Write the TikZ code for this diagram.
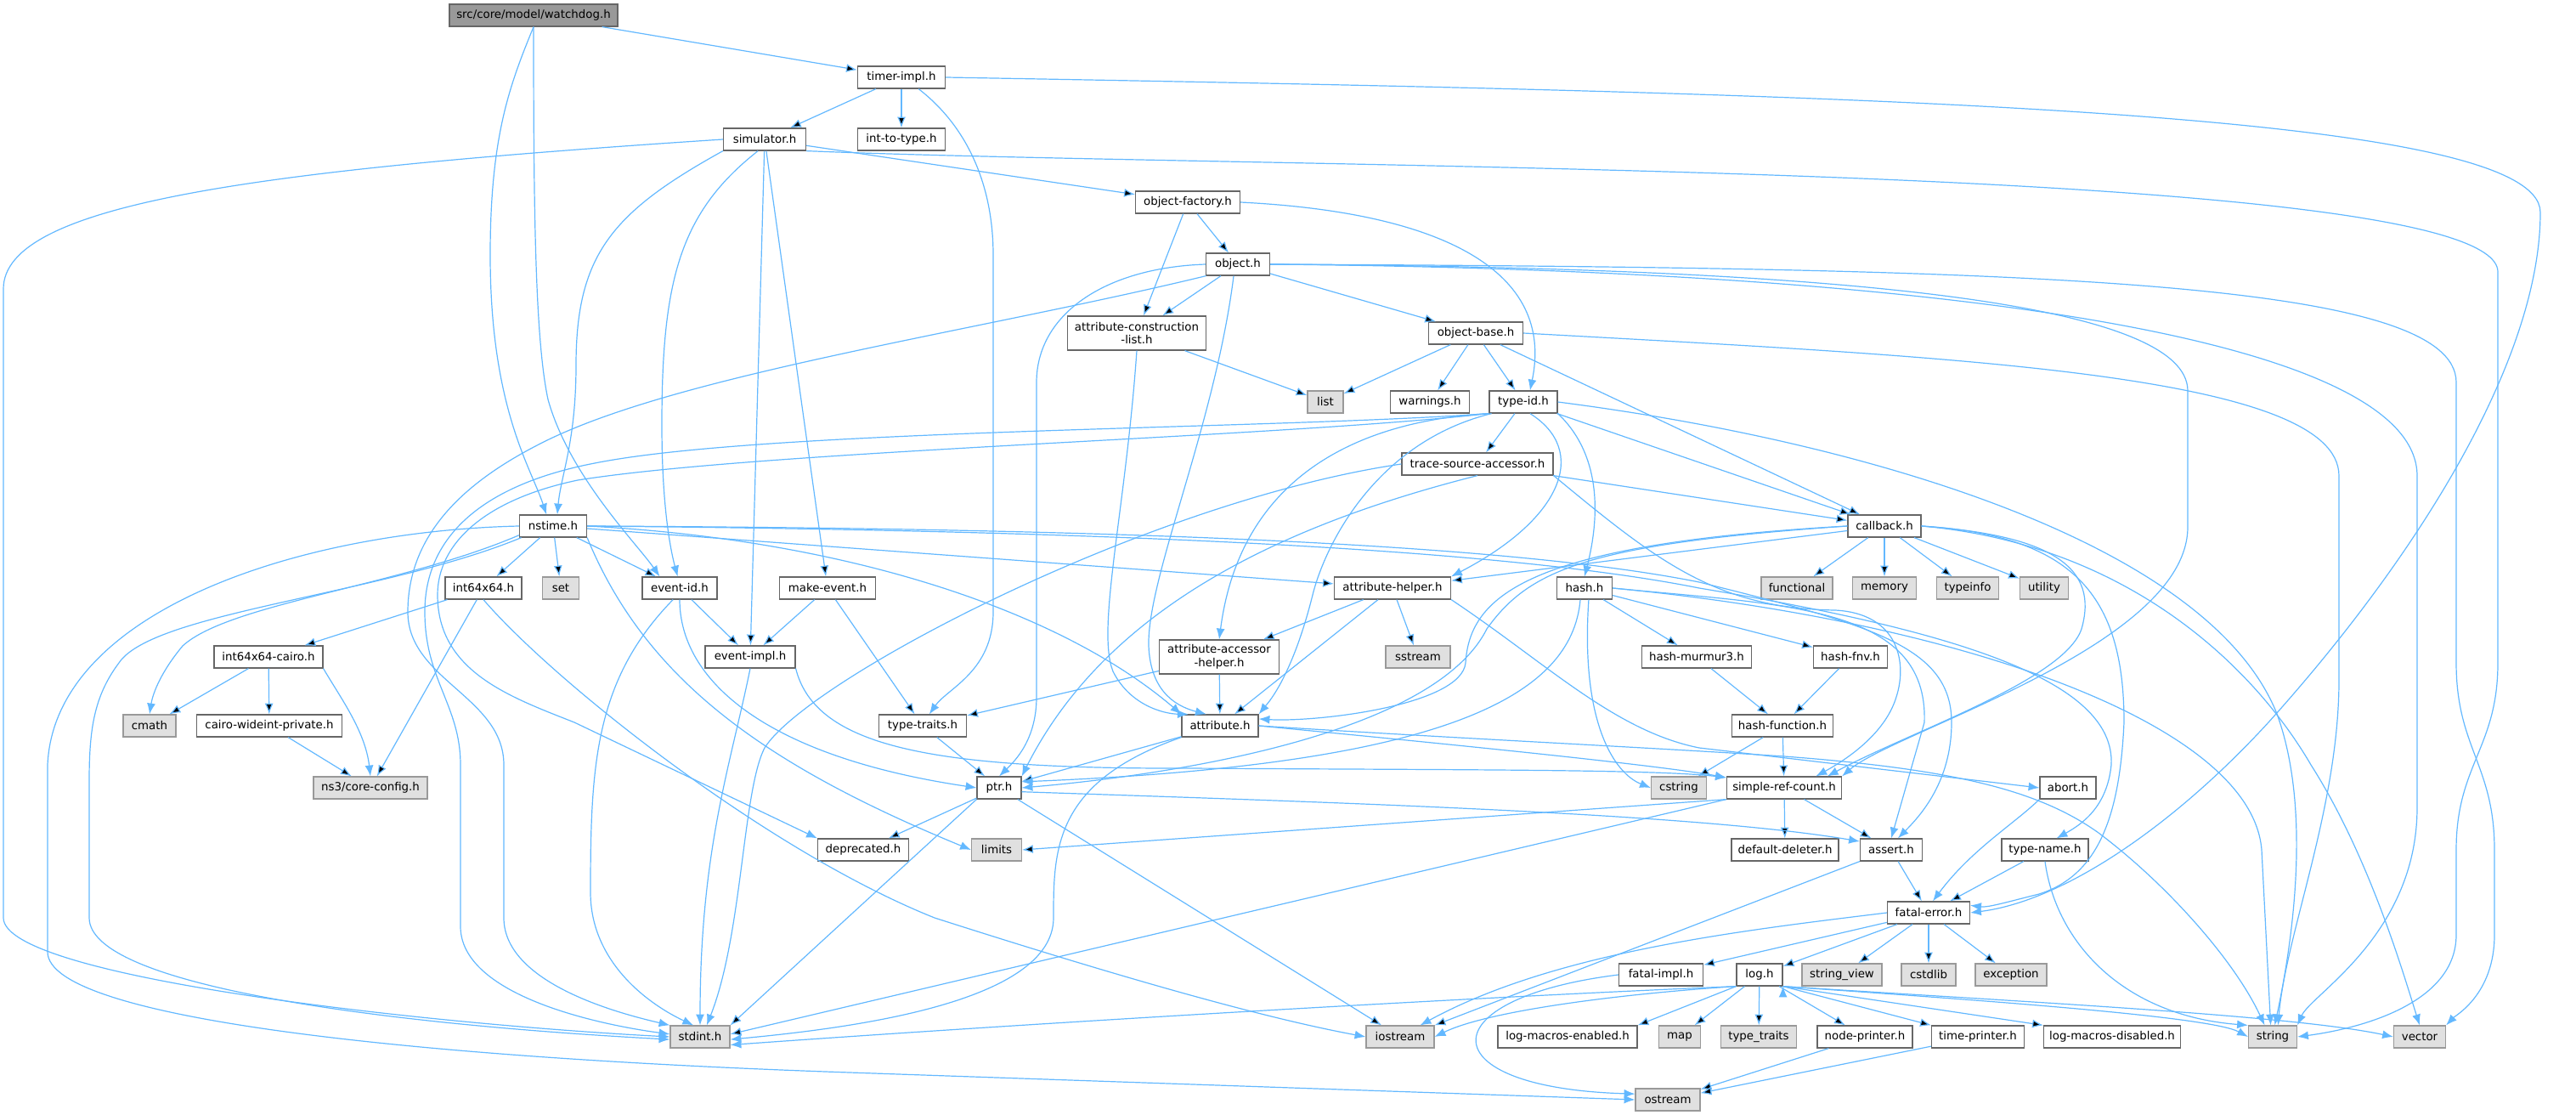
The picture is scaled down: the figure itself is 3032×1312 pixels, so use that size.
\documentclass[tikz,border=0pt]{standalone}
\usepackage{fontspec}
\setmainfont{DejaVu Sans}
\usetikzlibrary{arrows.meta,positioning}
\definecolor{linkblue}{HTML}{63B8FF}
\definecolor{boxline}{HTML}{666666}
\definecolor{sysline}{HTML}{999999}
\definecolor{sysfill}{HTML}{E0E0E0}
\definecolor{rootfill}{HTML}{999999}
\tikzset{>={Latex[length=3.2mm,width=2.5mm]}}

\begin{document}
\begin{tikzpicture}[x=0.25mm, y=-0.25mm,
                every node/.append style={align=center, font=\fontsize{9.5}{11}\selectfont},
                file/.style={draw=boxline, fill=white, line width=0.3mm, minimum height=6.5mm, inner xsep=0.4mm, inner ysep=0.5mm},
                sys/.style={file, draw=sysline, fill=sysfill},
                root/.style={file, fill=rootfill},
                link/.style={->, draw=linkblue, line width=0.3mm}]

\useasboundingbox (0,0) rectangle (3032,1312);

\node[root, minimum width=49.5mm] (watchdog) at (628,18) {src/core/model/watchdog.h};
\node[file, minimum width=25.75mm] (timerimpl) at (1061,91) {timer-impl.h};
\node[file, minimum width=25.75mm] (inttotype) at (1061,164) {int-to-type.h};
\node[file, minimum width=24.25mm] (simulator) at (900,164) {simulator.h};
\node[file, minimum width=30.75mm] (objfactory) at (1398,238) {object-factory.h};
\node[file, minimum width=18.75mm] (object) at (1457,311) {object.h};
\node[file, minimum width=40.75mm, minimum height=10mm] (attrconslist) at (1338,392) {attribute-construction\\-list.h};
\node[file, minimum width=27.75mm] (objectbase) at (1737,392) {object-base.h};
\node[sys, minimum width=10.5mm] (list) at (1560,473) {list};
\node[file, minimum width=23.25mm] (warnings) at (1683,473) {warnings.h};
\node[file, minimum width=20mm] (typeid) at (1793,473) {type-id.h};
\node[file, minimum width=44.5mm] (tracesrc) at (1739,546) {trace-source-accessor.h};
\node[file, minimum width=19.75mm] (nstime) at (651,619) {nstime.h};
\node[file, minimum width=21.5mm] (callback) at (2218,619) {callback.h};
\node[file, minimum width=22.5mm] (int64x64) at (569,692) {int64x64.h};
\node[sys, minimum width=10.75mm] (set) at (660,692) {set};
\node[file, minimum width=22mm] (eventid) at (800,692) {event-id.h};
\node[file, minimum width=28.25mm] (makeevent) at (974,692) {make-event.h};
\node[file, minimum width=34.25mm] (attrhelper) at (1639,692) {attribute-helper.h};
\node[file, minimum width=16.25mm] (hash) at (1865,692) {hash.h};
\node[sys, minimum width=21mm] (functional) at (2115,692) {functional};
\node[sys, minimum width=18.75mm] (memory) at (2218,692) {memory};
\node[sys, minimum width=18.25mm] (typeinfo) at (2316,692) {typeinfo};
\node[sys, minimum width=14.25mm] (utility) at (2406,692) {utility};
\node[file, minimum width=32mm] (cairo) at (316,773) {int64x64-cairo.h};
\node[file, minimum width=26.5mm] (eventimpl) at (883,773) {event-impl.h};
\node[file, minimum width=35.25mm, minimum height=10mm] (accessorhelper) at (1435,773) {attribute-accessor\\-helper.h};
\node[sys, minimum width=19mm] (sstream) at (1669,773) {sstream};
\node[file, minimum width=32.25mm] (murmur) at (1997,773) {hash-murmur3.h};
\node[file, minimum width=21.75mm] (fnv) at (2178,773) {hash-fnv.h};
\node[sys, minimum width=15.5mm] (cmath) at (176,854) {cmath};
\node[file, minimum width=42.75mm] (wideint) at (317,854) {cairo-wideint-private.h};
\node[file, minimum width=25.75mm] (typetraits) at (1086,854) {type-traits.h};
\node[file, minimum width=22.5mm] (attribute) at (1436,854) {attribute.h};
\node[file, minimum width=29.75mm] (hashfunc) at (2098,854) {hash-function.h};
\node[sys, minimum width=33.5mm] (coreconfig) at (436,927) {ns3/core-config.h};
\node[file, minimum width=13mm] (ptr) at (1176,927) {ptr.h};
\node[sys, minimum width=16.25mm] (cstring) at (1976,927) {cstring};
\node[file, minimum width=33.75mm] (simplerefcount) at (2100,927) {simple-ref-count.h};
\node[file, minimum width=16.5mm] (abort) at (2434,927) {abort.h};
\node[file, minimum width=26.75mm] (deprecated) at (1016,1000) {deprecated.h};
\node[sys, minimum width=14.75mm] (limits) at (1173,1000) {limits};
\node[file, minimum width=31.5mm] (defaultdeleter) at (2101,1000) {default-deleter.h};
\node[file, minimum width=18.25mm] (assert) at (2226,1000) {assert.h};
\node[file, minimum width=25.5mm] (typename) at (2407,1000) {type-name.h};
\node[file, minimum width=24.25mm] (fatalerror) at (2270,1074) {fatal-error.h};
\node[file, minimum width=24.75mm] (fatalimpl) at (1955,1147) {fatal-impl.h};
\node[file, minimum width=13.5mm] (log) at (2071,1147) {log.h};
\node[sys, minimum width=23.5mm] (stringview) at (2168,1147) {string\_view};
\node[sys, minimum width=16mm] (cstdlib) at (2270,1147) {cstdlib};
\node[sys, minimum width=21mm] (exception) at (2367,1147) {exception};
\node[sys, minimum width=17.5mm] (stdint) at (824,1220) {stdint.h};
\node[sys, minimum width=20mm] (iostream) at (1648,1220) {iostream};
\node[file, minimum width=41mm] (logenabled) at (1845,1220) {log-macros-enabled.h};
\node[sys, minimum width=12.25mm] (map) at (1977,1220) {map};
\node[sys, minimum width=22.25mm] (typetraitsstd) at (2070,1220) {type\_traits};
\node[file, minimum width=28mm] (nodeprinter) at (2195,1220) {node-printer.h};
\node[file, minimum width=27.25mm] (timeprinter) at (2328,1220) {time-printer.h};
\node[file, minimum width=40.25mm] (logdisabled) at (2486,1220) {log-macros-disabled.h};
\node[sys, minimum width=14.25mm] (string) at (2675,1220) {string};
\node[sys, minimum width=15.25mm] (vector) at (2848,1220) {vector};
\node[sys, minimum width=19mm] (ostream) at (1963,1294) {ostream};

\path[link] (watchdog) edge (timerimpl)
    (timerimpl) edge (simulator)
    (timerimpl) edge (inttotype)
    (simulator) edge (objfactory)
    (simulator) edge (eventimpl)
    (simulator) edge (makeevent)
    (objfactory) edge (object)
    (objfactory) edge (attrconslist)
    (object) edge (attrconslist)
    (object) edge (objectbase)
    (attrconslist) edge (list)
    (objectbase) edge (list)
    (objectbase) edge (warnings)
    (objectbase) edge (typeid)
    (objectbase) edge (callback)
    (typeid) edge (tracesrc)
    (typeid) edge (callback)
    (tracesrc) edge (callback)
    (nstime) edge (int64x64)
    (nstime) edge (set)
    (nstime) edge (eventid)
    (nstime) edge (attrhelper)
    (callback) edge (functional)
    (callback) edge (memory)
    (callback) edge (typeinfo)
    (callback) edge (utility)
    (callback) edge (attrhelper)
    (int64x64) edge (cairo)
    (int64x64) edge (coreconfig)
    (cairo) edge (cmath)
    (cairo) edge (wideint)
    (wideint) edge (coreconfig)
    (eventid) edge (eventimpl)
    (makeevent) edge (eventimpl)
    (makeevent) edge (typetraits)
    (attrhelper) edge (accessorhelper)
    (attrhelper) edge (attribute)
    (attrhelper) edge (sstream)
    (accessorhelper) edge (attribute)
    (accessorhelper) edge (typetraits)
    (hash) edge (murmur)
    (hash) edge (fnv)
    (murmur) edge (hashfunc)
    (fnv) edge (hashfunc)
    (hashfunc) edge (cstring)
    (hashfunc) edge (simplerefcount)
    (typetraits) edge (ptr)
    (attribute) edge (ptr)
    (ptr) edge (deprecated)
    (ptr) edge (iostream)
    (ptr.south west) edge (stdint.north east)
    (simplerefcount) edge (assert)
    (simplerefcount) edge (defaultdeleter)
    (simplerefcount.south west) edge (limits.east)
    (simplerefcount.south west) edge (stdint.5)
    (assert) edge (fatalerror)
    (typename) edge (fatalerror)
    (assert.south west) edge (iostream.north east)
    (fatalerror) edge (fatalimpl)
    (fatalerror) edge (log)
    (fatalerror) edge (stringview)
    (fatalerror) edge (cstdlib)
    (fatalerror) edge (exception)
    (log.south west) edge (logenabled.north east)
    (log) edge (map)
    (log) edge (typetraitsstd)
    (log) edge (nodeprinter)
    (log.south east) edge (timeprinter.north west)
    (log.south east) edge (logdisabled.north west)
    (nodeprinter) edge (ostream)
    (timeprinter) edge (ostream);

\draw[link] (watchdog.south) .. controls (600,100) and (577,160) .. (577,300) .. controls (577,480) and (625,550) .. (nstime.120);
\draw[link] (watchdog.south) .. controls (628,250) and (630,400) .. (645,470) .. controls (670,560) and (750,640) .. (eventid.150);
\draw[link] (timerimpl.326) .. controls (1140,150) and (1169,220) .. (1169,300) -- (1169,720) .. controls (1169,790) and (1115,810) .. (typetraits.60);
\draw[link] (timerimpl.east) .. controls (2200,110) and (2990,130) .. (2990,250) .. controls (2990,420) and (2850,650) .. (2670,850) .. controls (2560,970) and (2430,1060) .. (fatalerror.east);
\draw[link] (simulator.west) .. controls (300,200) and (4,240) .. (4,340) -- (4,1080) .. controls (4,1150) and (500,1205) .. (stdint.west);
\draw[link] (simulator.south west) .. controls (720,250) and (678,300) .. (678,430) .. controls (678,520) and (660,560) .. (nstime.70);
\draw[link] (simulator.240) .. controls (800,250) and (779,330) .. (779,500) .. controls (779,600) and (790,650) .. (eventid.100);
\draw[link] (simulator.south east) .. controls (1500,200) and (2940,190) .. (2940,320) -- (2940,780) .. controls (2940,880) and (2891,900) .. (2891,1000) -- (2891,1100) .. controls (2891,1180) and (2780,1210) .. (string.east);
\draw[link] (objfactory.east) .. controls (1700,250) and (1830,320) .. (typeid.60);
\draw[link] (object.west) .. controls (1300,315) and (1220,370) .. (1220,450) -- (1220,820) .. controls (1220,870) and (1195,895) .. (ptr.north);
\draw[link] (object.250) .. controls (1430,500) and (1350,680) .. (1352,760) .. controls (1354,810) and (1380,830) .. (attribute.140);
\draw[link] (object.200) .. controls (1150,390) and (800,440) .. (640,520) .. controls (560,560) and (480,620) .. (480,720) .. controls (480,800) and (593,820) .. (593,900) -- (593,1080) .. controls (593,1160) and (740,1195) .. (stdint.north west);
\draw[link] (object.east) .. controls (2200,315) and (2575,360) .. (2575,460) -- (2575,620) .. controls (2575,760) and (2230,860) .. (simplerefcount.north east);
\draw[link] (object.east) .. controls (2300,318) and (2845,400) .. (2845,560) -- (2845,950) .. controls (2845,1100) and (2720,1170) .. (string.north east);
\draw[link] (object.east) .. controls (2400,315) and (2891,330) .. (2891,450) -- (2891,780) .. controls (2891,880) and (2936,900) .. (2936,1000) -- (2936,1100) .. controls (2936,1170) and (2890,1195) .. (vector.north east);
\draw[link] (attrconslist.south) .. controls (1325,600) and (1290,740) .. (1310,790) .. controls (1330,830) and (1370,840) .. (attribute.160);
\draw[link] (objectbase.east) .. controls (2300,420) and (2753,440) .. (2753,560) -- (2753,800) .. controls (2753,950) and (2690,1100) .. (string.65);
\draw[link] (typeid.300) .. controls (1870,530) and (1840,610) .. (attrhelper.north east);
\draw[link] (typeid.south east) .. controls (1890,540) and (1880,620) .. (hash.north);
\draw[link] (typeid.south west) .. controls (1600,495) and (1460,560) .. (accessorhelper.north);
\draw[link] (typeid.200) .. controls (1620,520) and (1560,640) .. (1545,700) .. controls (1520,800) and (1490,830) .. (attribute.north east);
\draw[link] (typeid.south west) .. controls (1500,505) and (900,505) .. (700,545) .. controls (570,570) and (500,630) .. (500,720) .. controls (500,800) and (542,830) .. (542,900) -- (542,1090) .. controls (542,1170) and (700,1205) .. (stdint.175);
\draw[link] (typeid.south west) .. controls (1500,515) and (900,530) .. (680,565) .. controls (570,588) and (515,640) .. (515,700) .. controls (515,790) and (600,820) .. (676,850) -- (deprecated.north west);
\draw[link] (typeid.east) .. controls (2200,520) and (2600,640) .. (2680,840) .. controls (2720,950) and (2700,1100) .. (string.80);
\draw[link] (tracesrc.west) .. controls (1350,590) and (950,800) .. (900,880) .. controls (874,930) and (874,1100) .. (stdint.60);
\draw[link] (tracesrc.south) .. controls (1500,620) and (1300,720) .. (ptr.north east);
\draw[link] (tracesrc.south east) .. controls (1950,660) and (2020,716) .. (2160,718) .. controls (2235,722) and (2245,780) .. (2232,820) .. controls (2220,860) and (2180,890) .. (simplerefcount.20);
\draw[link] (nstime.west) .. controls (350,625) and (64,720) .. (56,900) -- (56,1120) .. controls (56,1200) and (500,1245) .. (1000,1262) -- (ostream.west);
\draw[link] (nstime.200) .. controls (450,700) and (180,720) .. (140,780) .. controls (110,820) and (105,860) .. (105,920) -- (105,1080) .. controls (105,1160) and (450,1205) .. (stdint.185);
\draw[link] (nstime.195) .. controls (470,690) and (270,710) .. (215,760) .. controls (190,790) and (180,815) .. (cmath.north);
\draw[link] (nstime.south east) .. controls (760,800) and (900,900) .. (limits.west);
\draw[link] (nstime.east) .. controls (1000,635) and (1250,720) .. (attribute.north west);
\draw[link] (nstime.east) .. controls (1400,622) and (1800,645) .. (2000,685) .. controls (2200,735) and (2297,760) .. (2297,850) .. controls (2297,920) and (2260,960) .. (assert.60);
\draw[link] (nstime.east) .. controls (1400,625) and (1800,652) .. (2000,692) .. controls (2300,742) and (2490,800) .. (2485,900) .. controls (2480,950) and (2450,970) .. (typename.45);
\draw[link] (callback.west) .. controls (1800,640) and (1730,700) .. (1725,780) .. controls (1720,830) and (1550,850) .. (attribute.10);
\draw[link] (callback.west) .. controls (1870,640) and (1800,670) .. (1750,740) .. controls (1690,860) and (1400,910) .. (ptr.east);
\draw[link] (callback.east) .. controls (2420,630) and (2470,670) .. (2450,740) .. controls (2430,800) and (2250,860) .. (simplerefcount.15);
\draw[link] (callback.east) .. controls (2440,630) and (2500,700) .. (2500,850) .. controls (2495,960) and (2470,1030) .. (2400,1052) .. controls (2360,1062) and (2340,1068) .. (fatalerror.10);
\draw[link] (callback.east) .. controls (2500,640) and (2650,780) .. (2720,900) .. controls (2790,1010) and (2830,1150) .. (vector.north);
\draw[link] (int64x64.south) .. controls (650,800) and (900,1000) .. (1100,1080) .. controls (1350,1160) and (1500,1200) .. (iostream.west);
\draw[link] (cairo.south east) .. controls (400,820) and (430,860) .. (coreconfig.north);
\draw[link] (eventid.south) .. controls (800,800) and (900,890) .. (ptr.west);
\draw[link] (eventid.240) .. controls (700,800) and (695,900) .. (695,1050) .. controls (695,1130) and (760,1180) .. (stdint.120);
\draw[link] (eventimpl.south) .. controls (860,900) and (824,1000) .. (stdint.north);
\draw[link] (eventimpl.south east) .. controls (960,880) and (1100,905) .. (1400,904) .. controls (1700,906) and (1950,905) .. (simplerefcount.170);
\draw[link] (attrhelper.south east) .. controls (1820,780) and (1900,860) .. (2000,880) -- (abort.west);
\draw[link] (attribute.south west) .. controls (1240,920) and (1240,1000) .. (1240,1080) .. controls (1240,1180) and (1000,1210) .. (stdint.-5);
\draw[link] (attribute.east) .. controls (1700,875) and (1950,900) .. (simplerefcount.170);
\draw[link] (attribute.east) .. controls (1700,868) and (1950,880) .. (2100,890) .. controls (2300,905) and (2400,930) .. (2470,980) .. controls (2550,1040) and (2630,1130) .. (string.125);
\draw[link] (hash.250) .. controls (1850,820) and (1700,900) .. (ptr.15);
\draw[link] (hash.290) .. controls (1860,850) and (1900,910) .. (cstring.west);
\draw[link] (hash.east) .. controls (2100,712) and (2270,712) .. (2265,850) -- (assert.north);
\draw[link] (hash.east) .. controls (2300,730) and (2650,850) .. (2662,1000) -- (string.100);
\draw[link] (ptr.-10) .. controls (1600,945) and (2000,958) .. (assert.165);
\draw[link] (abort.south west) .. controls (2370,970) and (2320,1000) .. (fatalerror.70);
\draw[link] (typename.south) .. controls (2420,1110) and (2500,1195) .. (string.north west);
\draw[link] (fatalerror.west) .. controls (2050,1095) and (1830,1120) .. (iostream.30);
\draw[link] (fatalimpl.west) .. controls (1680,1175) and (1680,1280) .. (ostream.170);
\draw[link] (log.south west) .. controls (1700,1175) and (1200,1205) .. (stdint.-15);
\draw[link] (log.south west) .. controls (1900,1170) and (1750,1190) .. (iostream.east);
\draw[link] (log.south east) .. controls (2300,1175) and (2600,1195) .. (string.west);
\draw[link] (log.south east) .. controls (2400,1180) and (2700,1195) .. (vector.west);

\end{tikzpicture}
\end{document}
